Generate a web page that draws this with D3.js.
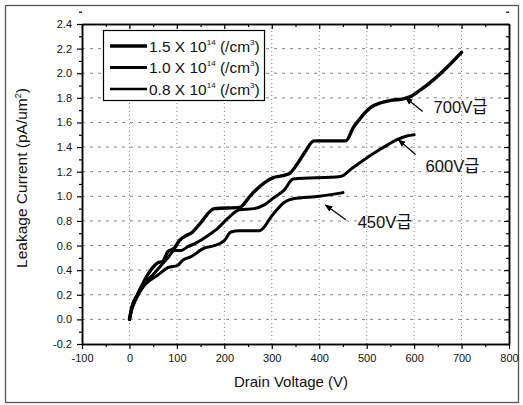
<!DOCTYPE html>
<html>
<head>
<meta charset="utf-8">
<script src="https://cdn.jsdelivr.net/npm/d3@7"></script>
<style>
  html, body { margin: 0; padding: 0; background: #fff; }
  svg { display: block; }
  text { font-family: "Liberation Sans", Arial, "Noto Sans CJK KR", sans-serif; fill: #111; }
</style>
</head>
<body>
<svg id="chart" width="523" height="405"></svg>
<script>
// ---- Data ----
const xTicks = [-100, 0, 100, 200, 300, 400, 500, 600, 700, 800];
const yTicks = [-0.2, 0.0, 0.2, 0.4, 0.6, 0.8, 1.0, 1.2, 1.4, 1.6, 1.8, 2.0, 2.2, 2.4];
const seriesNames = ["1.5 X 10", "1.0 X 10", "0.8 X 10"];
const seriesLabels = ["700V급", "600V급", "450V급"];

const s700 = [[0,0],[5,0.10],[17,0.20],[38,0.36],[60,0.46],[70,0.47],[81,0.55],[95,0.58],[105,0.64],[119,0.68],[130,0.70],[147,0.77],[179,0.90],[232,0.91],[256,1.01],[284,1.11],[302,1.15],[326,1.17],[339,1.19],[355,1.27],[370,1.36],[389,1.45],[456,1.45],[472,1.56],[490,1.65],[508,1.72],[530,1.76],[551,1.78],[575,1.79],[592,1.81],[612,1.86],[642,1.95],[670,2.05],[700,2.17]];
const s600 = [[0,0],[5,0.09],[12,0.16],[25,0.26],[49,0.36],[67,0.44],[81,0.50],[95,0.56],[109,0.56],[123,0.59],[140,0.62],[165,0.68],[186,0.74],[207,0.82],[232,0.89],[263,0.90],[284,0.93],[305,0.99],[326,1.05],[345,1.14],[445,1.16],[470,1.23],[515,1.35],[545,1.42],[564,1.46],[585,1.49],[600,1.50]];
const s450 = [[0,0],[5,0.08],[12,0.15],[32,0.28],[60,0.36],[81,0.42],[102,0.44],[112,0.48],[130,0.51],[158,0.58],[179,0.60],[200,0.64],[214,0.71],[232,0.72],[274,0.72],[302,0.85],[326,0.95],[345,0.98],[400,1.00],[450,1.03]];

// annotation anchors in data units: [tipX, tipY, tailX, tailY, textX, textY]
const ann700 = [582, 1.80, 618, 1.69, 641, 1.68];
const ann600 = [567, 1.46, 603, 1.34, 624, 1.20];
const ann450 = [413, 0.93, 456, 0.81, 481, 0.74];

const series = [s700, s600, s450];
const annotations = [ann700, ann600, ann450];

// ---- Layout ----
const svg = d3.select("#chart");
const L = 82, R = 509, T = 24, B = 344;
const x = d3.scaleLinear().domain([-100, 800]).range([L, R]);
const y = d3.scaleLinear().domain([-0.2, 2.4]).range([B, T]);

// outer frame
svg.append("rect").attr("x", 5.5).attr("y", 5.5).attr("width", 513).attr("height", 397)
  .attr("fill", "none").attr("stroke", "#555").attr("stroke-width", 1.3);

// grid
const g = svg.append("g");
g.selectAll(".vg").data(d3.range(0, 800, 100)).enter().append("line")
  .attr("x1", d => x(d)).attr("x2", d => x(d)).attr("y1", B).attr("y2", T)
  .attr("stroke", "#888").attr("stroke-width", 1).attr("stroke-dasharray", "1,3");
g.selectAll(".hg").data(d3.range(0, 11.5).map(i => i * 0.2)).enter().append("line")
  .attr("x1", L).attr("x2", R).attr("y1", d => y(d)).attr("y2", d => y(d))
  .attr("stroke", "#888").attr("stroke-width", 1).attr("stroke-dasharray", "3,5");

// axes
const fmtY = d => d3.format(".1f")(d).replace("−", "-");
const minorX = d3.range(-50, 800, 100);
const minorY = d3.range(0, 26).map(i => -0.1 + i * 0.2);

const axB = svg.append("g").attr("transform", `translate(0,${B})`)
  .call(d3.axisBottom(x).tickValues(xTicks).tickFormat(d => String(d)).tickSize(5).tickSizeOuter(0));
const axL = svg.append("g").attr("transform", `translate(${L},0)`)
  .call(d3.axisLeft(y).tickValues(yTicks).tickFormat(fmtY).tickSize(5).tickSizeOuter(0));
const axT = svg.append("g").attr("transform", `translate(0,${T})`)
  .call(d3.axisTop(x).tickValues(xTicks).tickFormat("").tickSize(-5).tickSizeOuter(0));
const axR = svg.append("g").attr("transform", `translate(${R},0)`)
  .call(d3.axisRight(y).tickValues(yTicks).tickFormat("").tickSize(-5).tickSizeOuter(0));
// minor ticks
svg.append("g").attr("transform", `translate(0,${B})`)
  .call(d3.axisBottom(x).tickValues(minorX).tickFormat("").tickSize(3).tickSizeOuter(0));
svg.append("g").attr("transform", `translate(${L},0)`)
  .call(d3.axisLeft(y).tickValues(minorY).tickFormat("").tickSize(3).tickSizeOuter(0));
svg.append("g").attr("transform", `translate(0,${T})`)
  .call(d3.axisTop(x).tickValues(minorX).tickFormat("").tickSize(-3).tickSizeOuter(0));
svg.append("g").attr("transform", `translate(${R},0)`)
  .call(d3.axisRight(y).tickValues(minorY).tickFormat("").tickSize(-3).tickSizeOuter(0));

svg.selectAll(".domain").attr("stroke", "#000").attr("stroke-width", 1.5);
svg.selectAll(".tick line").attr("stroke", "#000").attr("stroke-width", 1.2);
axB.selectAll(".tick text").attr("font-size", 11).attr("dy", "0.9em");
axL.selectAll(".tick text").attr("font-size", 11).attr("dx", "-2");

// axis titles
svg.append("text").attr("x", 291).attr("y", 387).attr("text-anchor", "middle")
  .attr("font-size", 15).text("Drain Voltage (V)");
const yl = svg.append("text").attr("transform", "translate(27,178) rotate(-90)")
  .attr("text-anchor", "middle").attr("font-size", 15.5);
yl.append("tspan").text("Leakage Current (pA/um");
yl.append("tspan").attr("font-size", 9).attr("dy", -6).text("2");
yl.append("tspan").attr("dy", 6).text(")");

// curves
const line = d3.line().x(d => x(d[0])).y(d => y(d[1])).curve(d3.curveMonotoneX);
const widths = [3.4, 3.0, 3.0];
svg.selectAll(".curve").data(series).enter().append("path")
  .attr("d", line).attr("fill", "none").attr("stroke", "#000")
  .attr("stroke-width", (d, i) => widths[i])
  .attr("stroke-linejoin", "round").attr("stroke-linecap", "round");

// annotations
svg.append("defs").append("marker").attr("id", "ah")
  .attr("viewBox", "0 0 10 10").attr("refX", 9).attr("refY", 5)
  .attr("markerWidth", 6).attr("markerHeight", 6).attr("orient", "auto")
  .append("path").attr("d", "M0,1 L10,5 L0,9 Z").attr("fill", "#000");
annotations.forEach((a, i) => {
  svg.append("line").attr("x1", x(a[2])).attr("y1", y(a[3])).attr("x2", x(a[0])).attr("y2", y(a[1]))
    .attr("stroke", "#000").attr("stroke-width", 1.3).attr("marker-end", "url(#ah)");
  svg.append("text").attr("x", x(a[4])).attr("y", y(a[5]))
    .attr("font-size", 17).attr("textLength", 54).attr("lengthAdjust", "spacingAndGlyphs")
    .style("font-family", "'Liberation Sans', Arial, 'Noto Sans CJK KR', sans-serif")
    .text(seriesLabels[i]);
});

// legend
const lg = svg.append("g");
lg.append("rect").attr("x", 103.5).attr("y", 30.5).attr("width", 161).attr("height", 70)
  .attr("fill", "#fff").attr("stroke", "#000").attr("stroke-width", 1.2);
const lw = [3.4, 3.0, 2.6];
seriesNames.forEach((n, i) => {
  const yy = 46 + i * 21.5;
  lg.append("line").attr("x1", 110).attr("x2", 147).attr("y1", yy).attr("y2", yy)
    .attr("stroke", "#000").attr("stroke-width", lw[i]);
  const t = lg.append("text").attr("x", 149).attr("y", yy + 5.5).attr("font-size", 15.5);
  t.append("tspan").text(n);
  t.append("tspan").attr("font-size", 8).attr("dy", -7).text("14");
  t.append("tspan").attr("dy", 7).text(" (/cm");
  t.append("tspan").attr("font-size", 8).attr("dy", -7).text("3");
  t.append("tspan").attr("dy", 7).text(")");
});
</script>
</body>
</html>
